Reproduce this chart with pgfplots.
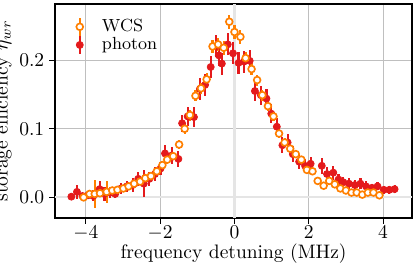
\documentclass[border=0pt]{standalone}
\usepackage{pgfplots}
\pgfplotsset{compat=1.18}
\usepackage{pgfplotstable}
\definecolor{cred}{HTML}{E41A1C}
\definecolor{corange}{HTML}{FF7F00}

\pgfplotstableread{
x y e
-4.39 0.001 0.004
-4.24 0.008 0.010
-4.09 0.002 0.005
-3.94 0.003 0.006
-3.80 0.002 0.008
-3.63 0.012 0.012
-3.50 0.005 0.010
-3.35 0.007 0.008
-3.21 0.005 0.006
-3.05 0.013 0.008
-2.90 0.016 0.008
-2.74 0.018 0.010
-2.59 0.027 0.010
-2.44 0.020 0.020
-2.29 0.027 0.010
-2.14 0.034 0.010
-1.99 0.042 0.010
-1.87 0.064 0.012
-1.69 0.061 0.012
-1.51 0.056 0.012
-1.41 0.108 0.012
-1.26 0.118 0.014
-1.09 0.117 0.014
-0.93 0.158 0.016
-0.79 0.164 0.016
-0.64 0.190 0.016
-0.50 0.220 0.016
-0.42 0.207 0.016
-0.34 0.195 0.016
-0.18 0.223 0.016
-0.04 0.210 0.016
0.11 0.196 0.016
0.26 0.198 0.016
0.41 0.199 0.016
0.55 0.155 0.014
0.71 0.149 0.014
0.86 0.144 0.014
0.99 0.122 0.014
1.14 0.103 0.012
1.29 0.076 0.012
1.43 0.080 0.012
1.57 0.063 0.012
1.74 0.052 0.010
1.90 0.046 0.010
2.05 0.049 0.010
2.35 0.046 0.012
2.49 0.034 0.010
2.66 0.036 0.010
2.80 0.026 0.008
2.93 0.022 0.008
3.08 0.020 0.008
3.24 0.018 0.008
3.39 0.020 0.008
3.54 0.016 0.008
3.70 0.014 0.006
3.85 0.016 0.006
4.02 0.011 0.006
4.17 0.011 0.006
4.31 0.012 0.006
}\photon

\pgfplotstableread{
x y e
-4.06 0.000 0.003
-3.90 0.005 0.006
-3.76 0.005 0.020
-3.62 0.006 0.006
-3.44 0.008 0.016
-3.29 0.010 0.004
-3.15 0.011 0.004
-2.99 0.013 0.004
-2.85 0.016 0.004
-2.70 0.020 0.004
-2.54 0.023 0.005
-2.40 0.028 0.005
-2.25 0.031 0.005
-2.09 0.038 0.005
-1.94 0.047 0.006
-1.81 0.055 0.006
-1.65 0.060 0.006
-1.49 0.077 0.006
-1.34 0.100 0.007
-1.20 0.120 0.008
-1.05 0.148 0.008
-0.90 0.159 0.008
-0.75 0.172 0.009
-0.59 0.220 0.010
-0.44 0.223 0.010
-0.29 0.218 0.010
-0.14 0.256 0.010
0.00 0.241 0.010
0.16 0.234 0.010
0.30 0.203 0.009
0.46 0.187 0.009
0.61 0.171 0.008
0.75 0.149 0.008
0.90 0.133 0.007
1.05 0.118 0.007
1.20 0.093 0.006
1.35 0.080 0.006
1.50 0.071 0.006
1.65 0.063 0.005
1.80 0.055 0.005
1.95 0.040 0.005
2.10 0.038 0.005
2.24 0.024 0.004
2.40 0.017 0.004
2.55 0.024 0.004
2.70 0.019 0.004
2.85 0.013 0.004
3.00 0.010 0.003
3.15 0.007 0.003
3.29 0.007 0.003
3.44 0.004 0.003
3.59 0.007 0.003
3.74 0.007 0.003
3.90 0.003 0.003
}\wcs

\begin{document}
\begin{tikzpicture}
\begin{axis}[
  width=183pt, height=109.7pt, scale only axis,
  xmin=-4.83, xmax=4.78, ymin=-0.030, ymax=0.282,
  xtick={-4,-2,0,2,4},
  ytick={0,0.1,0.2},
  yticklabel style={xshift=1pt, /pgf/number format/.cd, fixed, fixed zerofill, precision=1},
  xticklabel style={yshift=2.5pt},
  scaled y ticks=false,
  tick align=outside,
  major tick length=3pt,
  tick style={black, line width=0.55pt},
  xtick pos=bottom, ytick pos=left,
  axis line style={line width=0.9pt},
  grid=major,
  grid style={gray!50, line width=0.45pt},
  xlabel={frequency detuning (MHz)},
  ylabel={storage efficiency $\eta_{wr}$},
  every axis x label/.style={at={(axis description cs:0.5,-0.169)}, anchor=center},
  ylabel style={yshift=-3pt},
  legend style={draw=none, fill=none, font=\small, at={(0.042,0.967)}, anchor=north west,
    row sep=-2.5pt, nodes={inner sep=2pt}},
  legend cell align=left,
  reverse legend,
  legend image code/.code={
    \path[draw=none, fill=none] (-0.05cm,0cm) -- (0.33cm,0cm);
    \draw[#1, line width=1.1pt] (0cm,-0.16cm) -- (0cm,0.16cm);
    \draw[#1] plot[only marks] coordinates {(0cm,0cm)};
  },
]
\addplot[forget plot, gray!20, line width=1.1pt] coordinates {(0,-0.030) (0,0.282)};
\addplot[forget plot, gray!20, line width=1.1pt] coordinates {(-4.83,0) (4.78,0)};

\addplot[only marks, mark=*, mark size=1.8pt, color=cred,
  error bars/.cd, y dir=both, y explicit,
  error bar style={line width=1.1pt, cred}, error mark=none]
  table[x=x, y=y, y error=e] {\photon};
\addlegendentry{photon}

\addplot[only marks, mark=*, mark size=1.75pt, color=corange,
  mark options={fill=white, draw=corange, line width=0.85pt},
  error bars/.cd, y dir=both, y explicit,
  error bar style={line width=1.1pt, corange}, error mark=none]
  table[x=x, y=y, y error=e] {\wcs};
\addlegendentry{WCS}
\end{axis}
\pgfresetboundingbox
\path ([shift={(-28.2pt,-25.6pt)}]current axis.south west) rectangle ([shift={(1.5pt,2pt)}]current axis.north east);
\end{tikzpicture}
\end{document}
